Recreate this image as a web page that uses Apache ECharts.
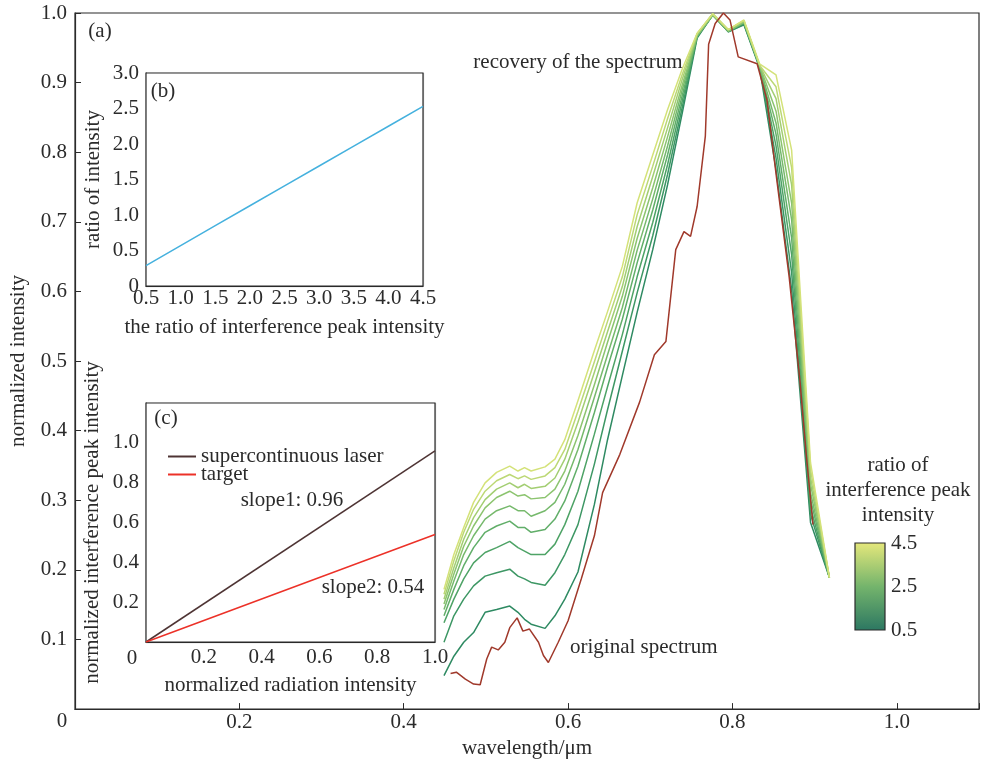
<!DOCTYPE html>
<html>
<head>
<meta charset="utf-8">
<script src="https://cdn.jsdelivr.net/npm/echarts@6/dist/echarts.min.js"></script>
<style>
  html, body { margin: 0; padding: 0; background: #fff; }
  #chart { width: 982px; height: 764px; }
</style>
</head>
<body>
<div id="chart"></div>
<script>
// (a) recovered spectra, one curve per ratio of interference peak intensity
const wavelength = [0.449, 0.461, 0.473, 0.485, 0.499, 0.513, 0.529, 0.539, 0.547, 0.555, 0.572, 0.584, 0.596,
  0.612, 0.632, 0.648, 0.666, 0.684, 0.703, 0.721, 0.739, 0.757,
  0.776, 0.795, 0.814, 0.833, 0.853, 0.872, 0.895, 0.918]
const ratios = [0.5, 1.0, 1.5, 2.0, 2.5, 3.0, 3.5, 4.0, 4.5]
const rec05 = [0.048, 0.076, 0.096, 0.110, 0.139, 0.143, 0.148, 0.139, 0.129, 0.122, 0.116, 0.134, 0.158,
  0.197, 0.294, 0.387, 0.479, 0.570, 0.660, 0.753, 0.857, 0.964, 0.997, 0.973, 0.983, 0.921, 0.775, 0.603, 0.268, 0.189]
const rec10 = [0.096, 0.134, 0.158, 0.177, 0.191, 0.196, 0.201, 0.191, 0.187, 0.182, 0.178, 0.196, 0.222,
  0.265, 0.352, 0.430, 0.514, 0.598, 0.680, 0.768, 0.865, 0.966, 0.997, 0.973, 0.984, 0.923, 0.792, 0.627, 0.280, 0.189]
const rec15 = [0.124, 0.158, 0.187, 0.210, 0.225, 0.232, 0.241, 0.232, 0.227, 0.222, 0.222, 0.237, 0.265,
  0.313, 0.395, 0.463, 0.538, 0.621, 0.699, 0.782, 0.874, 0.966, 0.997, 0.974, 0.986, 0.923, 0.809, 0.653, 0.290, 0.189]
const rec20 = [0.134, 0.172, 0.206, 0.232, 0.254, 0.263, 0.270, 0.261, 0.261, 0.254, 0.258, 0.273, 0.299,
  0.349, 0.426, 0.491, 0.560, 0.641, 0.717, 0.796, 0.882, 0.967, 0.997, 0.974, 0.986, 0.924, 0.826, 0.677, 0.301, 0.189]
const rec25 = [0.143, 0.184, 0.222, 0.249, 0.273, 0.285, 0.292, 0.285, 0.285, 0.277, 0.285, 0.297, 0.323,
  0.373, 0.448, 0.509, 0.577, 0.659, 0.733, 0.809, 0.890, 0.967, 0.997, 0.974, 0.987, 0.924, 0.842, 0.703, 0.311, 0.189]
const rec30 = [0.151, 0.194, 0.234, 0.263, 0.289, 0.304, 0.313, 0.306, 0.308, 0.302, 0.304, 0.316, 0.342,
  0.393, 0.466, 0.527, 0.593, 0.676, 0.749, 0.822, 0.897, 0.968, 0.997, 0.974, 0.987, 0.925, 0.859, 0.727, 0.323, 0.189]
const rec35 = [0.158, 0.203, 0.244, 0.275, 0.301, 0.316, 0.325, 0.318, 0.323, 0.317, 0.320, 0.332, 0.359,
  0.412, 0.484, 0.542, 0.607, 0.693, 0.765, 0.835, 0.905, 0.970, 0.999, 0.976, 0.989, 0.925, 0.877, 0.753, 0.333, 0.189]
const rec40 = [0.165, 0.213, 0.254, 0.287, 0.313, 0.328, 0.337, 0.331, 0.335, 0.330, 0.335, 0.347, 0.373,
  0.428, 0.499, 0.557, 0.621, 0.710, 0.780, 0.848, 0.912, 0.970, 0.999, 0.976, 0.989, 0.925, 0.894, 0.778, 0.344, 0.189]
const rec45 = [0.172, 0.222, 0.261, 0.297, 0.325, 0.340, 0.349, 0.342, 0.347, 0.342, 0.348, 0.359, 0.387,
  0.443, 0.515, 0.571, 0.636, 0.727, 0.796, 0.861, 0.920, 0.971, 0.999, 0.976, 0.990, 0.927, 0.911, 0.803, 0.354, 0.189]
const recovered = [rec05, rec10, rec15, rec20, rec25, rec30, rec35, rec40, rec45]
const ratioColors = ['#2e8a62', '#3d9764', '#4ea366', '#61ae69', '#76b96c', '#8cc46f', '#a3ce72', '#bcd875', '#d4e279']

// original spectrum
const origX = [0.457, 0.464, 0.475, 0.485, 0.493, 0.501, 0.507, 0.515, 0.523, 0.529, 0.538, 0.545, 0.553, 0.564,
  0.570, 0.576, 0.588, 0.600, 0.616, 0.632, 0.642, 0.663, 0.687, 0.705, 0.719, 0.731, 0.741, 0.749, 0.757,
  0.767, 0.771, 0.779, 0.789, 0.797, 0.807, 0.830, 0.842, 0.854, 0.869, 0.882, 0.890, 0.898]
const origY = [0.051, 0.053, 0.043, 0.036, 0.035, 0.072, 0.089, 0.085, 0.096, 0.117, 0.131, 0.112, 0.115, 0.096,
  0.077, 0.067, 0.096, 0.127, 0.187, 0.249, 0.311, 0.366, 0.441, 0.509, 0.528, 0.660, 0.686, 0.679, 0.722,
  0.823, 0.955, 0.985, 1.000, 0.990, 0.937, 0.927, 0.875, 0.760, 0.621, 0.473, 0.363, 0.265]

// (b) ratio of intensity vs ratio of interference peak intensity
const bX = [0.5, 1.0, 1.5, 2.0, 2.5, 3.0, 3.5, 4.0, 4.5]
const bY = [0.286, 0.57, 0.85, 1.13, 1.41, 1.69, 1.97, 2.25, 2.53]

// (c) interference peak vs radiation intensity
const cX = [0, 1.0]
const laserY = [0, 0.96]
const targetY = [0, 0.54]

// colour bar range
const barRange = [0.5, 4.5]

const font = 'Liberation Serif'
const fs = 21
const ink = '#2b2b2b'
const pair = (xs, ys) => xs.map((x, i) => [x, ys[i]])
const one = v => v.toFixed(1)

const chart = echarts.init(document.getElementById('chart'), null, { renderer: 'canvas' })

const axisBase = {
  axisLine: { show: true, lineStyle: { color: ink, width: 1.2 } },
  axisLabel: { color: ink, fontSize: fs, fontFamily: font },
  nameTextStyle: { color: ink, fontSize: fs, fontFamily: font },
  nameLocation: 'middle',
}
const gridLine = { show: true, lineStyle: { color: '#c9c9c9', width: 1.3 } }

const text = (x, y, s, align = 'center') => ({
  type: 'text', x, y, z: 100,
  style: { text: s, fill: ink, font: `${fs}px "${font}"`, textAlign: align, textVerticalAlign: 'middle', align, verticalAlign: 'middle' },
})

const series = recovered.map((d, i) => ({
  type: 'line', name: 'r' + ratios[i], xAxisIndex: 0, yAxisIndex: 0,
  data: pair(wavelength, d), symbol: 'none',
  lineStyle: { color: ratioColors[i], width: 1.5 }, z: 3 + i,
}))
series.push({
  type: 'line', name: 'original', xAxisIndex: 0, yAxisIndex: 0,
  data: pair(origX, origY), symbol: 'none', lineStyle: { color: '#a0392b', width: 1.5 }, z: 20,
})
series.push({
  type: 'line', name: 'ratio', xAxisIndex: 1, yAxisIndex: 1,
  data: pair(bX, bY), symbol: 'none', lineStyle: { color: '#45b1de', width: 1.5 }, z: 20,
})
series.push({
  type: 'line', name: 'supercontinuous laser', xAxisIndex: 2, yAxisIndex: 2,
  data: pair(cX, laserY), symbol: 'none', itemStyle: { color: '#4e3434' }, lineStyle: { color: '#4e3434', width: 1.5 }, z: 20,
})
series.push({
  type: 'line', name: 'target', xAxisIndex: 2, yAxisIndex: 2,
  data: pair(cX, targetY), symbol: 'none', itemStyle: { color: '#ec3128' }, lineStyle: { color: '#ec3128', width: 1.5 }, z: 20,
})
series.push({
  type: 'custom', xAxisIndex: 3, yAxisIndex: 3,
  data: [[0, barRange[0], barRange[1]]],
  renderItem: (params, api) => {
    const lo = api.coord([api.value(0), api.value(1)])
    const hi = api.coord([api.value(0), api.value(2)])
    const w = api.size([1, 0])[0]
    return {
      type: 'rect',
      shape: { x: lo[0] - w / 2, y: hi[1], width: w, height: lo[1] - hi[1] },
      style: {
        fill: new echarts.graphic.LinearGradient(0, 0, 0, 1, [
          { offset: 0, color: '#e4e77b' },
          { offset: 0.5, color: '#74b46c' },
          { offset: 1, color: '#2d7862' },
        ]),
      },
    }
  },
})

chart.setOption({
  animation: false,
  backgroundColor: '#fff',
  textStyle: { fontFamily: font },
  grid: [
    { left: 74, right: 3, top: 13, bottom: 54, show: true, borderColor: ink, borderWidth: 1.2 },
    { left: 146, top: 73, width: 277, height: 213, show: true, backgroundColor: '#fff', borderColor: ink, borderWidth: 1.2, z: 5 },
    { left: 146, top: 403, width: 289, height: 239, show: true, backgroundColor: '#fff', borderColor: ink, borderWidth: 1.2, z: 5 },
    { left: 855, top: 543, width: 30, height: 87, show: true, borderColor: ink, borderWidth: 1.2, z: 5 },
  ],
  xAxis: [
    {
      ...axisBase, gridIndex: 0, type: 'value', min: 0, max: 1.1, interval: 0.2,
      name: 'wavelength/μm', nameGap: 27,
      axisTick: { inside: true, length: 6, lineStyle: { color: ink } },
      axisLabel: { ...axisBase.axisLabel, margin: 3, showMinLabel: false, formatter: v => (v > 1.05 ? '' : one(v)) },
      splitLine: { show: false },
    },
    {
      ...axisBase, gridIndex: 1, type: 'value', min: 0.5, max: 4.5, interval: 0.5,
      name: 'the ratio of interference peak intensity', nameGap: 31,
      axisTick: { show: false },
      axisLabel: { ...axisBase.axisLabel, margin: 2, formatter: one },
      splitLine: gridLine,
    },
    {
      ...axisBase, gridIndex: 2, type: 'value', min: 0, max: 1.0, interval: 0.2,
      name: 'normalized radiation intensity', nameGap: 33,
      axisTick: { show: false },
      axisLabel: { ...axisBase.axisLabel, margin: 5, showMinLabel: false, formatter: one },
      splitLine: gridLine,
    },
    {
      gridIndex: 3, type: 'category', data: ['bar'], show: false,
    },
  ],
  yAxis: [
    {
      ...axisBase, gridIndex: 0, type: 'value', min: 0, max: 1.0, interval: 0.1,
      name: 'normalized intensity', nameGap: 46,
      axisTick: { inside: true, length: 6, lineStyle: { color: ink } },
      axisLabel: { ...axisBase.axisLabel, margin: 8, showMinLabel: false, formatter: one },
      splitLine: { show: false },
    },
    {
      ...axisBase, gridIndex: 1, type: 'value', min: 0, max: 3.0, interval: 0.5,
      name: 'ratio of intensity', nameGap: 42,
      axisTick: { show: false },
      axisLabel: { ...axisBase.axisLabel, margin: 7, formatter: v => (v === 0 ? '0' : one(v)) },
      splitLine: gridLine,
    },
    {
      ...axisBase, gridIndex: 2, type: 'value', min: 0, max: 1.2, interval: 0.2,
      name: 'normalized interference peak intensity', nameGap: 43,
      axisTick: { show: false },
      axisLabel: { ...axisBase.axisLabel, margin: 7, formatter: v => (v === 0 || v > 1.1 ? '' : one(v)) },
      splitLine: gridLine,
    },
    {
      ...axisBase, gridIndex: 3, type: 'value', min: barRange[0], max: barRange[1], interval: 2,
      position: 'right',
      axisLine: { show: false },
      axisTick: { inside: true, length: 4, lineStyle: { color: ink } },
      axisLabel: { ...axisBase.axisLabel, margin: 6, formatter: one },
      splitLine: { show: false },
    },
  ],
  legend: {
    data: ['supercontinuous laser', 'target'],
    orient: 'vertical', left: 163, top: 441,
    icon: 'rect', itemWidth: 28, itemHeight: 2, itemGap: -3,
    textStyle: { color: ink, fontSize: fs, fontFamily: font },
    z: 50,
  },
  graphic: [
    text(100, 31, '(a)'),
    text(163, 91, '(b)'),
    text(166, 418, '(c)'),
    text(62, 721, '0'),
    text(132, 658, '0'),
    text(578, 62, 'recovery of the spectrum'),
    text(570, 647, 'original spectrum', 'left'),
    text(292, 500, 'slope1: 0.96'),
    text(373, 587, 'slope2: 0.54'),
    text(898, 465, 'ratio of'),
    text(898, 490, 'interference peak'),
    text(898, 515, 'intensity'),
  ],
  series,
})
</script>
</body>
</html>
